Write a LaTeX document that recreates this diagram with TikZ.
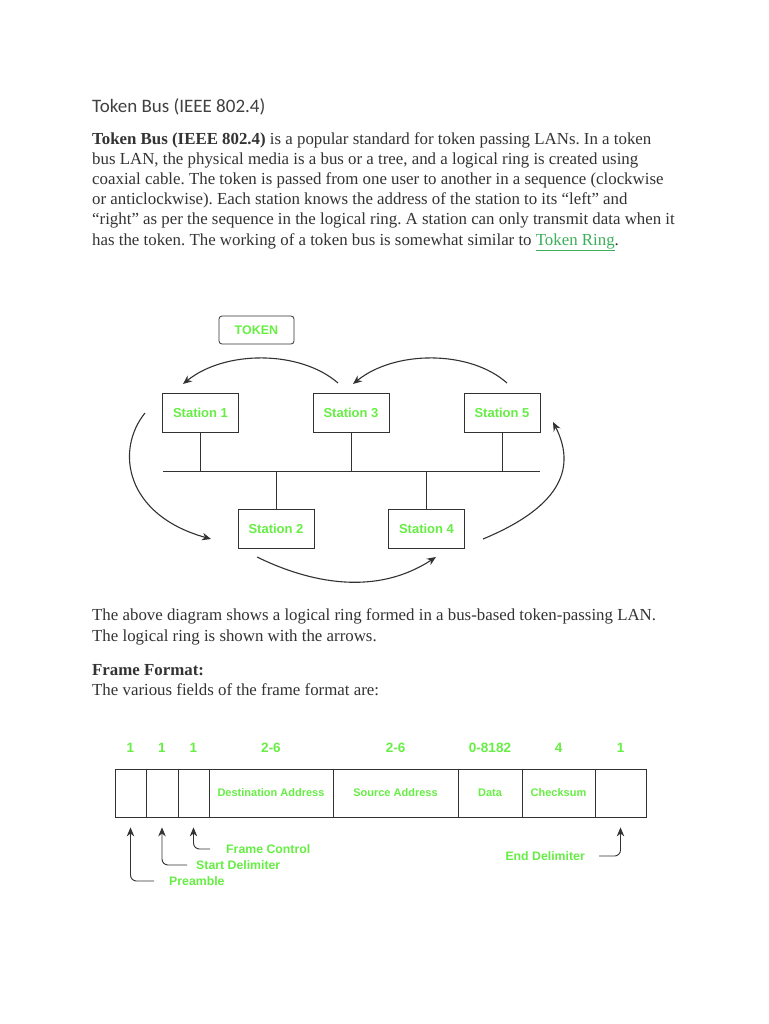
\documentclass[tikz,border=0pt]{standalone}
\usepackage{fontspec}
\setmainfont{Liberation Serif}
\newfontfamily\arialfont{Liberation Sans}
\newfontfamily\titlefont{Carlito}
\usetikzlibrary{arrows.meta,positioning}
\frenchspacing

\definecolor{labgreen}{RGB}{102,238,68}
\definecolor{linkgreen}{RGB}{60,175,90}
\definecolor{bodygray}{RGB}{51,51,51}
\definecolor{titlegray}{RGB}{64,64,64}
\definecolor{linegray}{RGB}{50,50,50}

\tikzset{
  >={Stealth[length=9pt,width=7.5pt]},
  bodytext/.style={anchor=base west, inner sep=0pt, text=bodygray, font=\fontsize{16.85}{20}\selectfont},
  station/.style={draw=linegray, line width=0.8pt, minimum width=76pt, minimum height=39pt, inner sep=0pt, text=labgreen, font=\arialfont\bfseries\fontsize{13}{15}\selectfont},
  tokenbox/.style={station, minimum width=75pt, minimum height=28pt, rounded corners=3pt, font=\arialfont\bfseries\fontsize{12.5}{14}\selectfont},
  wire/.style={draw=linegray, line width=0.8pt},
  ring/.style={linegray, line width=1.1pt, ->},
  cell/.style={draw=linegray, line width=0.8pt, minimum height=48pt, inner sep=0pt, text=labgreen, font=\arialfont\bfseries\fontsize{11}{13}\selectfont},
  numtext/.style={inner sep=0pt, text=labgreen, font=\arialfont\bfseries\fontsize{13.5}{15}\selectfont},
  fieldtext/.style={inner sep=0pt, text=labgreen, font=\arialfont\bfseries\fontsize{12.3}{15}\selectfont},
  hook/.style={linegray, line width=0.9pt, rounded corners=6pt, ->}
}

\begin{document}
\begin{tikzpicture}[x=1pt, y=-1pt]
  % Page
  \fill[white] (0,0) rectangle (768,1024);
  \useasboundingbox (0,0) rectangle (768,1024);

  % Title and first paragraph
  \node[anchor=base west, inner sep=0pt, text=titlegray, font=\titlefont\fontsize{19}{22}\selectfont] (title) at (92,113) {Token Bus (IEEE 802.4)};
  \node[bodytext] (p1a) at (92,145) {\textbf{Token Bus (IEEE 802.4)} is a popular standard for token passing LANs. In a token};
  \node[bodytext] (p1b) at (92,165) {bus LAN, the physical media is a bus or a tree, and a logical ring is created using};
  \node[bodytext] (p1c) at (92,185) {coaxial cable. The token is passed from one user to another in a sequence (clockwise};
  \node[bodytext] (p1d) at (92,205) {or anticlockwise). Each station knows the address of the station to its “left” and};
  \node[bodytext] (p1e) at (92,225) {“right” as per the sequence in the logical ring. A station can only transmit data when it};
  \node[bodytext] (p1f) at (92,245) {has the token. The working of a token bus is somewhat similar to {\color{linkgreen}\underline{Token Ring}}.};

  % Token
  \node[tokenbox] (token) at (256.5,330) {TOKEN};

  % Stations
  \node[station] (s1) at (200.5,412.5) {Station 1};
  \node[station] (s3) at (351,412.5) {Station 3};
  \node[station] (s5) at (502,412.5) {Station 5};
  \node[station] (s2) at (276,528.5) {Station 2};
  \node[station] (s4) at (426.5,528.5) {Station 4};

  % Bus
  \coordinate (busL) at (163,471);
  \coordinate (busR) at (540,471);
  \draw[wire] (busL) -- (busR);
  \foreach \s in {s1,s3,s5}
    \draw[wire] (\s.south) -- (\s.south |- busL);
  \foreach \s in {s2,s4}
    \draw[wire] (\s.north) -- (\s.north |- busL);

  % Logical ring
  \coordinate (r3a) at (338,383);  \coordinate (r1b) at (183,384);
  \coordinate (r5a) at (507,383);  \coordinate (r3b) at (353,384);
  \coordinate (r1a) at (145,413);  \coordinate (r2b) at (211,539);
  \coordinate (r2a) at (257,557);  \coordinate (r4b) at (436,557);
  \coordinate (r4a) at (483,539);  \coordinate (r5b) at (553,422);
  \draw[ring] (r3a) .. controls (300,350) and (225,350) .. (r1b);
  \draw[ring] (r5a) .. controls (470,350) and (395,350) .. (r3b);
  \draw[ring] (r1a) .. controls (115,450) and (125,515) .. (r2b);
  \draw[ring] (r2a) .. controls (300,578) and (370,600) .. (r4b);
  \draw[ring] (r4a) .. controls (565,505) and (575,465) .. (r5b);

  % Second paragraph
  \node[bodytext] (p2a) at (92,620) {The above diagram shows a logical ring formed in a bus-based token-passing LAN.};
  \node[bodytext] (p2b) at (92,641) {The logical ring is shown with the arrows.};
  \node[bodytext] (p3a) at (92,675) {\textbf{Frame Format:}};
  \node[bodytext] (p3b) at (92,695) {The various fields of the frame format are:};

  % Frame fields
  \foreach \l/\r/\n/\txt/\num in {115/146/pre//1, 146/178/sd//1, 178/209/fc//1,
      209/333/da/Destination Address/2-6, 333/458/sa/Source Address/2-6,
      458/522/dt/Data/0-8182, 522/595/cs/Checksum/4, 595/646/ed//1} {
    \node[cell, minimum width=\r pt-\l pt] (\n) at ({(\l+\r)/2},793) {\txt};
    \node[numtext] (\n num) at ({(\l+\r)/2},748) {\num};
  }

  % Field names
  \node[fieldtext, anchor=west] (preL) at (169,881) {Preamble};
  \node[fieldtext, anchor=west] (sdL) at (196,865) {Start Delimiter};
  \node[fieldtext, anchor=west] (fcL) at (226,849) {Frame Control};
  \node[fieldtext, anchor=east] (edL) at (585,856) {End Delimiter};
  \draw[hook] ([xshift=-15pt]preL.west) -| ([yshift=-10pt]pre.south);
  \draw[hook] ([xshift=-9pt]sdL.west) -| ([yshift=-10pt]sd.south);
  \draw[hook] ([xshift=-16pt]fcL.west) -| ([yshift=-10pt]fc.south);
  \draw[hook] ([xshift=14pt]edL.east) -| ([yshift=-10pt]ed.south);
\end{tikzpicture}
\end{document}
